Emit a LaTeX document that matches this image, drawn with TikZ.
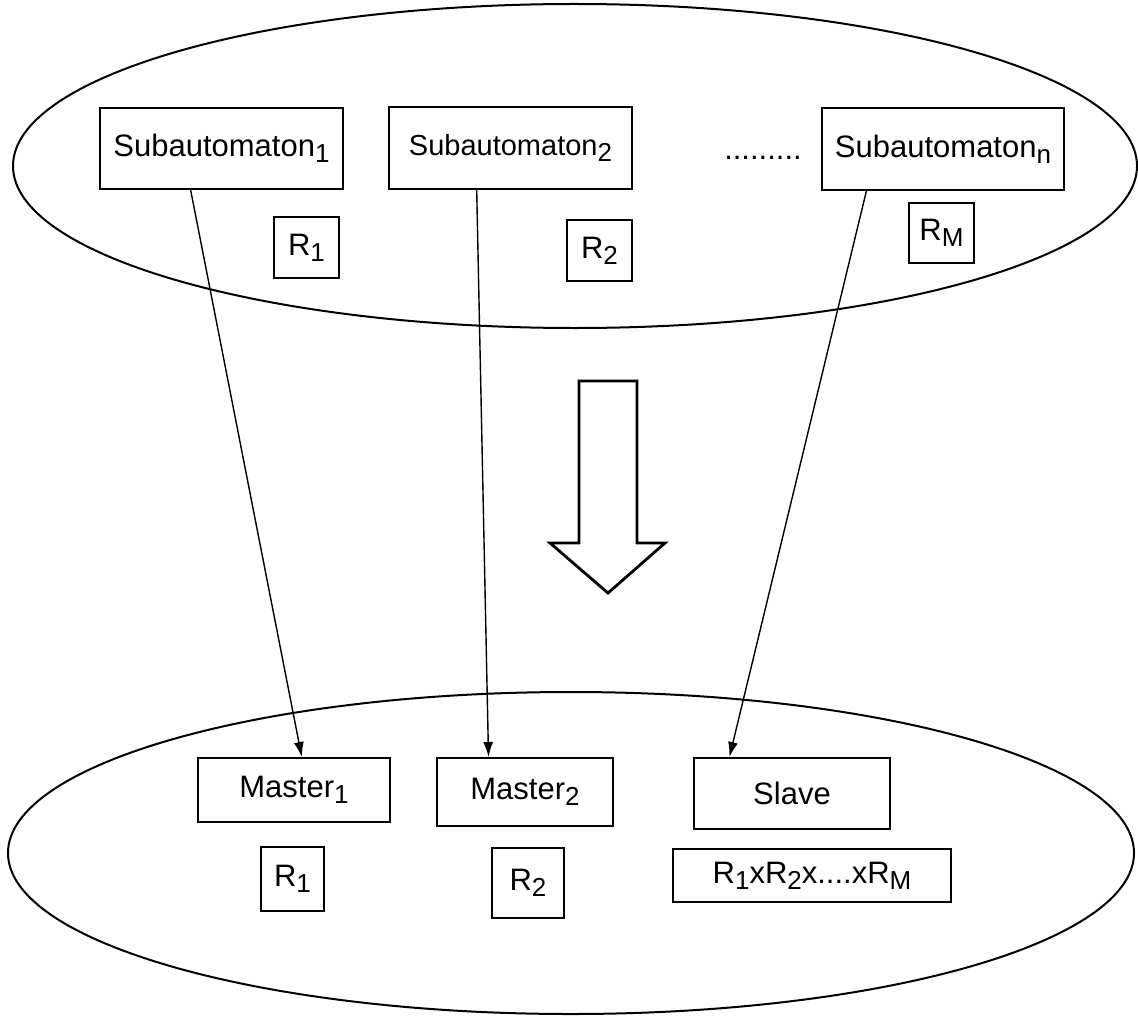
\documentclass[tikz,border=0pt]{standalone}
\usepackage{fontspec}
\setmainfont{Liberation Sans}
\usetikzlibrary{arrows.meta,calc}
\newcommand\lowsub[1]{\raisebox{-3pt}{\fontsize{13}{13}\selectfont #1}}
\begin{document}
\begin{tikzpicture}[x=0.5pt,y=-0.5pt,
  box/.style={draw, line width=1pt, inner sep=0pt, font=\fontsize{15.5}{16}\selectfont},
  conn/.style={line width=0.7pt, -{Latex[length=7.5pt,width=5pt]}},
  ring/.style={line width=1pt},
  bigarrow/.style={line width=1.4pt, line join=miter}]
\useasboundingbox (0,0) rectangle (1138,1016);
% outer ellipses
\draw[ring] (575,166) ellipse [x radius=281pt, y radius=81pt];
\draw[ring] (571,853) ellipse [x radius=281.5pt, y radius=80.5pt];
% top nodes
\node[box, minimum width=121.5pt, minimum height=40.5pt] (sub1) at (221.5,148.5) {Subautomaton\lowsub{1}};
\node[box, minimum width=32.5pt, minimum height=30.5pt] (r1t) at (306.5,247.5) {R\lowsub{1}};
\node[box, minimum width=121.5pt, minimum height=41pt, font=\fontsize{14.5}{15}\selectfont] (sub2) at (510.5,148) {Subautomaton\lowsub{2}};
\node[box, minimum width=32.5pt, minimum height=30.5pt] (r2t) at (599.5,250.5) {R\lowsub{2}};
\node[font=\fontsize{15.5}{16}\selectfont, anchor=base, inner sep=0pt] (dots) at (763,160) {.........};
\node[box, minimum width=121pt, minimum height=41pt] (subn) at (943,149) {Subautomaton\lowsub{n}};
\node[box, minimum width=32.5pt, minimum height=30pt] (rm) at (941.5,233) {R\lowsub{M}};
% bottom nodes
\node[box, minimum width=96pt, minimum height=32pt] (m1) at (294,790) {Master\lowsub{1}};
\node[box, minimum width=88pt, minimum height=34pt] (m2) at (525,792) {Master\lowsub{2}};
\node[box, minimum width=98pt, minimum height=35.5pt] (slave) at (792,793.5) {Slave\hspace{17pt}};
\node[box, minimum width=31.5pt, minimum height=32pt] (r1b) at (292.5,879) {R\lowsub{1}};
\node[box, minimum width=36pt, minimum height=35pt] (r2b) at (528,883) {R\lowsub{2}};
\node[box, minimum width=139pt, minimum height=26.5pt] (rprod) at (812,875.5) {R\lowsub{1}xR\lowsub{2}x....xR\lowsub{M}};
% connectors
\draw[conn] ($(sub1.south west)!0.374!(sub1.south east)$) -- ($(m1.north west)!0.54!(m1.north east)$);
\draw[conn] ($(sub2.south west)!0.362!(sub2.south east)$) -- ($(m2.north west)!0.295!(m2.north east)$);
\draw[conn] ($(subn.south west)!0.186!(subn.south east)$) -- ($(slave.north west)!0.184!(slave.north east)$);
% block arrow
\draw[bigarrow] (579,381) -- (637,381) -- (637,543) -- (665,543) -- (608,593) -- (550,543) -- (579,543) -- cycle;
\end{tikzpicture}
\end{document}
